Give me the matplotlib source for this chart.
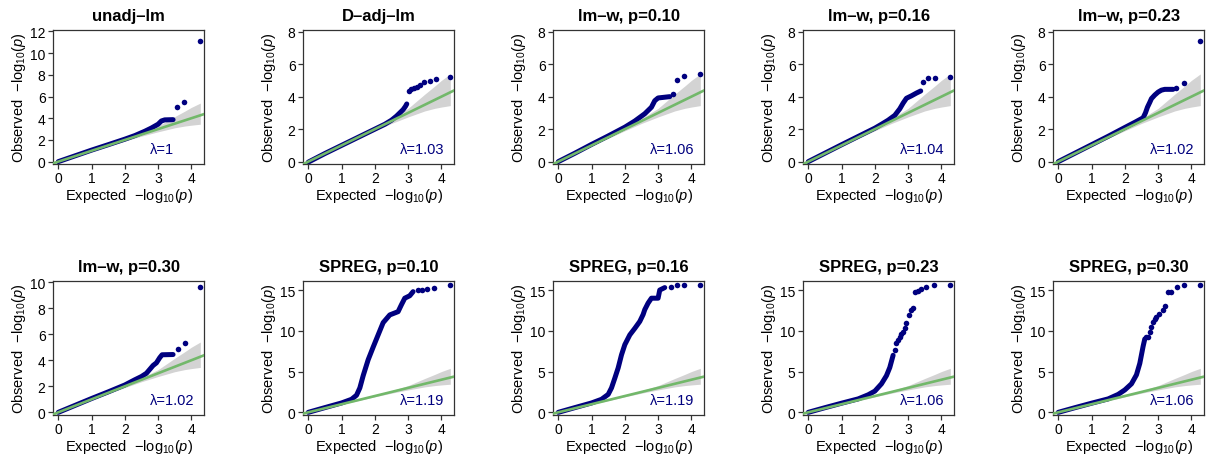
import matplotlib
matplotlib.use("Agg")
import matplotlib.pyplot as plt

plt.rcParams['font.family'] = ['Liberation Sans', 'DejaVu Sans']
plt.rcParams['mathtext.fontset'] = 'custom'
plt.rcParams['mathtext.rm'] = 'Liberation Sans'
plt.rcParams['mathtext.it'] = 'Liberation Sans:italic'

# ---- data ---------------------------------------------------------------
titles = ["unadj\u2013lm", "D\u2013adj\u2013lm", "lm\u2013w, p=0.10", "lm\u2013w, p=0.16",
          "lm\u2013w, p=0.23", "lm\u2013w, p=0.30", "SPREG, p=0.10", "SPREG, p=0.16",
          "SPREG, p=0.23", "SPREG, p=0.30"]
lambdas = ["1", "1.03", "1.06", "1.04", "1.02", "1.02", "1.19", "1.19", "1.06", "1.06"]

# dense part of each QQ curve (expected, observed)
curve_x = [
    [0, 0.5, 1.0, 1.5, 2.0, 2.3, 2.6, 2.8, 3.0, 3.1, 3.2, 3.45],
    [0, 0.5, 1.0, 1.5, 2.0, 2.3, 2.5, 2.65, 2.75, 2.85, 2.92, 2.96],
    [0, 0.5, 1.0, 1.5, 2.0, 2.3, 2.6, 2.8, 2.9, 3.0, 3.35],
    [0, 0.5, 1.0, 1.5, 2.0, 2.2, 2.4, 2.6, 2.75, 2.85, 2.95, 3.1, 3.25, 3.38],
    [0, 0.5, 1.0, 1.5, 2.0, 2.3, 2.55, 2.62, 2.68, 2.75, 2.8, 2.9, 3.0, 3.1, 3.2, 3.45],
    [0, 0.5, 1.0, 1.5, 2.0, 2.3, 2.5, 2.65, 2.75, 2.85, 2.95, 3.05, 3.12, 3.45],
    [0, 0.5, 1.0, 1.3, 1.45, 1.55, 1.65, 1.8, 1.95, 2.1, 2.25, 2.45, 2.7, 2.8, 2.9, 3.05, 3.15],
    [0, 0.5, 1.0, 1.3, 1.5, 1.6, 1.7, 1.8, 1.9, 2.0, 2.15, 2.3, 2.45, 2.55, 2.6, 2.7, 2.8,
     3.0, 3.05, 3.2],
    [0, 0.5, 1.0, 1.5, 1.8, 2.0, 2.2, 2.35, 2.45, 2.55],
    [0, 0.5, 1.0, 1.5, 1.8, 2.0, 2.2, 2.35, 2.45, 2.55, 2.6],
]
curve_y = [
    [0, 0.53, 1.06, 1.56, 2.07, 2.4, 2.8, 3.1, 3.45, 3.75, 3.85, 3.87],
    [-0.03, 0.5, 1.0, 1.5, 2.0, 2.3, 2.55, 2.8, 3.0, 3.2, 3.4, 3.55],
    [0, 0.52, 1.06, 1.58, 2.12, 2.5, 2.95, 3.35, 3.75, 3.92, 4.0],
    [0, 0.52, 1.04, 1.55, 2.06, 2.3, 2.55, 2.85, 3.25, 3.6, 3.9, 4.05, 4.22, 4.35],
    [0, 0.52, 1.04, 1.56, 2.1, 2.42, 2.7, 3.0, 3.35, 3.65, 3.88, 4.1, 4.28, 4.4, 4.45, 4.45],
    [0, 0.53, 1.06, 1.57, 2.1, 2.5, 2.75, 3.0, 3.3, 3.6, 3.8, 4.2, 4.42, 4.44],
    [0, 0.58, 1.15, 1.6, 2.1, 3.0, 4.5, 6.45, 8.0, 9.5, 11.0, 11.95, 12.35, 13.2, 14.0, 14.3, 14.8],
    [0, 0.58, 1.15, 1.6, 2.2, 3.0, 4.2, 5.45, 7.05, 8.3, 9.5, 10.3, 11.15, 12.0, 12.6, 13.4, 14.0,
     14.0, 15.0, 15.3],
    [0, 0.57, 1.12, 1.65, 2.15, 2.6, 3.5, 4.5, 5.5, 7.0],
    [0, 0.57, 1.12, 1.65, 2.2, 2.75, 3.5, 4.6, 6.0, 8.1, 9.0],
]
# separate points in the upper tail
tail_x = [
    [3.57, 3.79, 4.27],
    [3.02, 3.09, 3.19, 3.27, 3.37, 3.49, 3.65, 3.85, 4.27],
    [3.45, 3.57, 3.79, 4.27],
    [3.45, 3.6, 3.8, 4.27],
    [3.55, 3.79, 4.27],
    [3.6, 3.82, 4.27],
    [3.3, 3.42, 3.57, 3.79, 4.27],
    [3.38, 3.57, 3.79, 4.27],
    [2.6, 2.65, 2.7, 2.75, 2.8, 2.85, 2.9, 2.95, 3.02, 3.09, 3.16, 3.22, 3.3, 3.39, 3.54, 3.79, 4.27],
    [2.65, 2.7, 2.75, 2.79, 2.84, 2.9, 2.94, 3.04, 3.14, 3.21, 3.29, 3.39, 3.58, 3.79, 4.27],
]
tail_y = [
    [5.0, 5.5, 11.1],
    [4.35, 4.45, 4.55, 4.62, 4.7, 4.9, 4.97, 5.07, 5.24],
    [4.15, 5.05, 5.25, 5.42],
    [4.9, 5.12, 5.12, 5.22],
    [4.52, 4.85, 7.42],
    [4.88, 5.32, 9.62],
    [15.0, 15.05, 15.1, 15.2, 15.65],
    [15.4, 15.65, 15.65, 15.65],
    [7.7, 8.5, 8.9, 9.3, 9.6, 9.9, 10.4, 10.9, 11.95, 12.5, 12.75, 14.8, 14.9, 15.1, 15.4, 15.65, 15.65],
    [9.2, 9.3, 9.9, 10.5, 11.1, 11.4, 11.7, 12.1, 12.5, 13.1, 14.8, 14.8, 15.4, 15.65, 15.65],
]

# 95% band around the diagonal
band_x = [0, 1.0, 2.0, 2.5, 3.0, 3.5, 3.8, 4.0, 4.27]
band_hi = [0, 1.02, 2.12, 2.65, 3.28, 4.15, 4.65, 5.0, 5.4]
band_lo = [0, 0.97, 1.9, 2.35, 2.75, 3.12, 3.28, 3.36, 3.45]

y_ticks = [range(0, 13, 2)] + [range(0, 9, 2)] * 4 + [range(0, 11, 2)] + [range(0, 16, 5)] * 4
y_top = [12.1, 8.08, 8.08, 8.08, 8.08, 10.08, 16.1, 16.1, 16.1, 16.1]

navy = "#00007f"
green = "#72b86a"
band_col = "#d3d3d3"
edge = "#333333"

fig = plt.figure(figsize=(12.19, 4.6), dpi=100)

for i in range(10):
    row, col = divmod(i, 5)
    left = (53.3 + 250 * col) / 1219
    bottom = 0.6413 if row == 0 else 0.0963
    ax = fig.add_axes([left, bottom, 150.7 / 1219, 0.2905])

    ax.fill_between(band_x, band_lo, band_hi, color=band_col, lw=0, zorder=1)
    ax.plot(curve_x[i], curve_y[i], color=navy, lw=3.6, solid_capstyle="round",
            solid_joinstyle="round", zorder=2)
    ax.plot(tail_x[i], tail_y[i], "o", ms=4.0, color=navy, mec="none", zorder=2)
    ax.axline((0, 0), slope=1, color=green, lw=1.9, zorder=3)

    ax.set_xlim(-0.15, 4.38)
    ax.set_ylim(-0.018 * y_top[i], y_top[i])
    ax.set_xticks(range(5))
    ax.set_yticks(list(y_ticks[i]))

    for s in ax.spines.values():
        s.set_color(edge)
        s.set_linewidth(0.9)
    ax.tick_params(direction="out", length=3.6, width=0.9, color=edge,
                   labelsize=10, pad=1.5)
    ax.tick_params(axis="y", pad=2)

    ax.set_title(titles[i], fontsize=12, fontweight="bold", pad=7.5)
    ax.set_xlabel(r"Expected  $-\log_{10}\!(p)$", fontsize=10.5)
    ax.set_ylabel(r"Observed  $-\log_{10}\!(p)$", fontsize=10.5)
    ax.xaxis.set_label_coords(0.5, -0.165)
    ax.yaxis.set_label_coords(-0.165, 0.5)

    ax.text(2.75, 0.06, "\u03bb=" + lambdas[i], transform=ax.get_xaxis_transform(),
            color=navy, fontsize=10.5, ha="left", va="bottom")

fig.savefig("out.png", dpi=100)
